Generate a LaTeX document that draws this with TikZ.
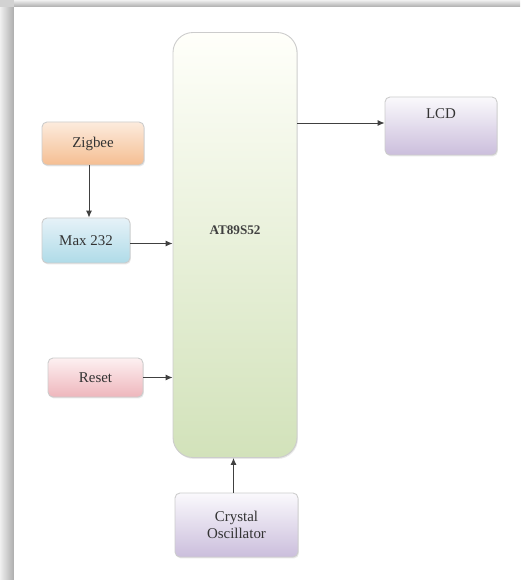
\documentclass[tikz,border=0pt]{standalone}
\usepackage{fontspec}
\setmainfont{Liberation Serif}
\usetikzlibrary{arrows.meta,shadows,calc}
\definecolor{zigT}{HTML}{FCEBDD}
\definecolor{zigB}{HTML}{F5BE92}
\definecolor{maxT}{HTML}{E6F2F8}
\definecolor{maxB}{HTML}{AFDBE8}
\definecolor{rstT}{HTML}{FDF0F1}
\definecolor{rstB}{HTML}{EEB6BC}
\definecolor{purT}{HTML}{FAF9FC}
\definecolor{purB}{HTML}{CBBEDC}
\definecolor{mcuT}{HTML}{FFFFFA}
\definecolor{mcuB}{HTML}{D2E2BA}
\definecolor{edge}{HTML}{CCCCCC}
\definecolor{wire}{HTML}{404040}
\tikzset{
  blk/.style={draw=edge, line width=0.5pt, rounded corners=0.1cm, font=\fontsize{8.5}{10}\selectfont, text=black!80, align=center,
    drop shadow={opacity=0.18, shadow xshift=0.5pt, shadow yshift=-0.8pt}},
  arr/.style={draw=wire, line width=0.55pt, -{Latex[length=4pt,width=3.5pt]}}
}
\begin{document}
\begin{tikzpicture}[x=0.02cm,y=-0.02cm]
\useasboundingbox (0,0) rectangle (520,580);
% frame shadow
\shade[left color=gray!12, right color=gray!65] (0,0) rectangle (14,580);
\shade[top color=gray!12, bottom color=gray!65] (14,0) rectangle (520,7);
\fill[gray!35] (0,0) rectangle (14,7);
\fill[white] (14,7) rectangle (520,580);
% main
\node[blk, rounded corners=0.4cm, top color=mcuT, bottom color=mcuB, minimum width=124*0.02cm, minimum height=425*0.02cm,
  label={[font=\fontsize{7.5}{9}\selectfont\bfseries, text=black!75, yshift=15*0.02cm]center:AT89S52}] (mcu) at (235,245) {};
\node[blk, top color=zigT, bottom color=zigB, minimum width=102*0.02cm, minimum height=43*0.02cm] (zig) at (93,143.5) {Zigbee};
\node[blk, top color=maxT, bottom color=maxB, minimum width=88*0.02cm, minimum height=45*0.02cm] (max) at (86,240.5) {Max 232};
\node[blk, top color=rstT, bottom color=rstB, minimum width=95*0.02cm, minimum height=39*0.02cm] (rst) at (95.5,377.5) {Reset};
\node[blk, top color=purT, bottom color=purB, minimum width=112*0.02cm, minimum height=58*0.02cm,
  label={[font=\fontsize{8.5}{10}\selectfont, text=black!80, anchor=north, yshift=-6*0.02cm]north:LCD}] (lcd) at (441,126) {};
\node[blk, top color=purT, bottom color=purB, minimum width=123*0.02cm, minimum height=64*0.02cm] (xtal) at (236.5,525) {Crystal\\Oscillator};
% connectors
\draw[arr] ($(zig.south)+(-4,0)$) -- ($(zig.south |- max.north)+(-4,0)$);
\draw[arr] ($(max.east)+(0,3)$) -- ($(max.east -| mcu.west)+(0,3)$);
\draw[arr] (rst.east) -- (rst.east -| mcu.west);
\draw[arr] ($(lcd.west -| mcu.east)+(0,-3)$) -- ($(lcd.west)+(0,-3)$);
\draw[arr] ($(xtal.north)+(-3,0)$) -- ($(xtal.north |- mcu.south)+(-3,0)$);
\end{tikzpicture}
\end{document}
